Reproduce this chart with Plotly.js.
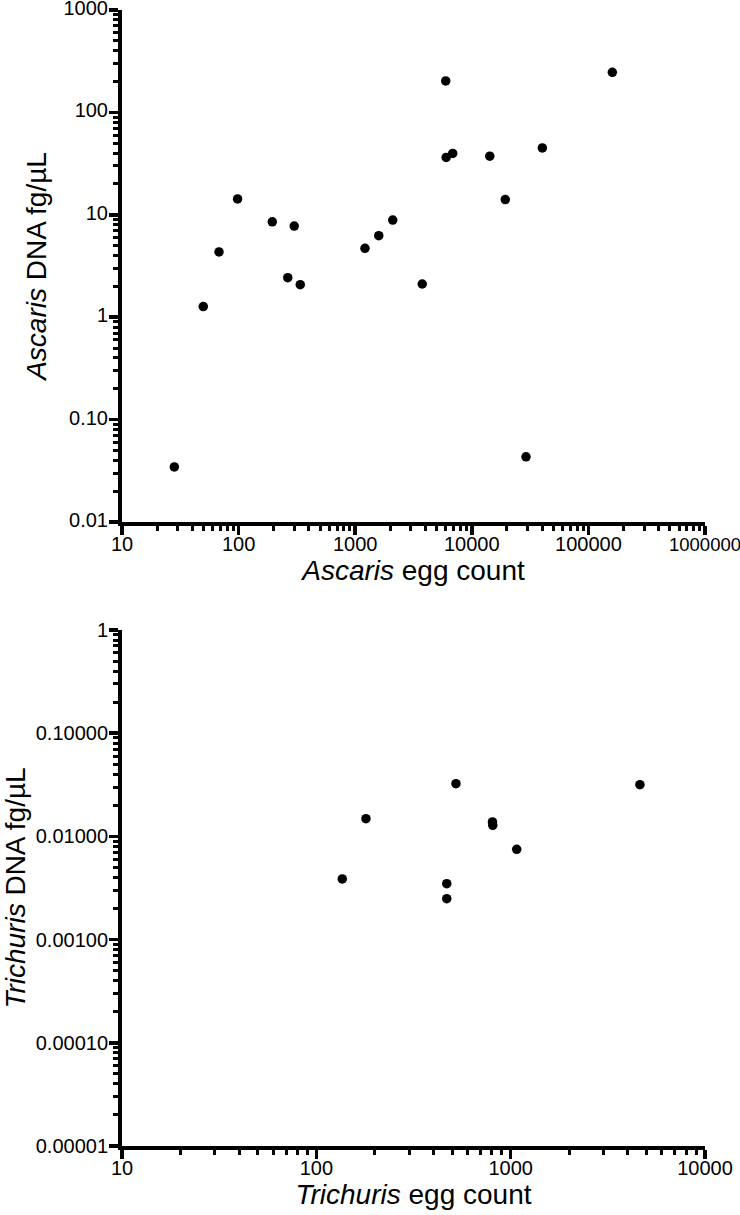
<!DOCTYPE html>
<html>
<head>
<meta charset="utf-8">
<script src="https://cdn.plot.ly/plotly-3.0.1.min.js"></script>
<style>body{margin:0;padding:0;background:#fff}#chart{width:740px;height:1215px}</style>
</head>
<body>
<div id="chart"></div>
<script>
// Ascaris panel
const ascarisEggs = [28.1, 49.8, 67.9, 98, 194.5, 264, 300, 338, 1213, 1592, 2099, 3758, 5975, 6030, 6855, 14260, 19370, 29170, 40270, 160400];
const ascarisDNA  = [0.0345, 1.27, 4.34, 14.3, 8.55, 2.43, 7.77, 2.08, 4.71, 6.25, 8.88, 2.11, 203, 36.3, 39.7, 37.4, 14.1, 0.0433, 45, 246];
// Trichuris panel
const trichurisEggs = [136, 180, 469, 469, 523, 806, 809, 1074, 4625];
const trichurisDNA  = [0.00387, 0.01485, 0.00348, 0.00249, 0.0324, 0.0138, 0.0128, 0.0075, 0.0317];

const ascXTickVals = [10, 100, 1000, 10000, 100000, 1000000];
const ascXTickText = ["10", "100", "1000", "10000", "100000", "<span style='font-size:18.5px'>1000000</span>"];
const ascYTickVals = [0.01, 0.1, 1, 10, 100, 1000];
const ascYTickText = ["0.01", "0.10", "1", "10", "100", "1000"];
const triXTickVals = [10, 100, 1000, 10000];
const triXTickText = ["10", "100", "1000", "10000"];
const triYTickVals = [0.00001, 0.0001, 0.001, 0.01, 0.1, 1];
const triYTickText = ["0.00001", "0.00010", "0.00100", "0.01000", "0.10000", "1"];

const FONT = "Liberation Sans, Arial, Helvetica, sans-serif";

function axis(extra) {
  return Object.assign({
    type: 'log',
    showline: true, linecolor: '#000', linewidth: 4,
    ticks: 'outside', ticklen: 9, tickwidth: 3.5, tickcolor: '#000',
    tickmode: 'array',
    showgrid: false, zeroline: false,
    ticklabeloverflow: 'allow',
    tickfont: {family: FONT, size: 20, color: '#000'},
    minor: {ticks: 'outside', ticklen: 5, tickwidth: 3, tickcolor: '#000', dtick: 'D1', tickmode: 'linear', showgrid: false},
    mirror: false,
    fixedrange: true
  }, extra);
}

const marker = {color: '#000', size: 9.5, symbol: 'circle'};
const titleFont = {family: FONT, size: 28, color: '#000'};

const data = [
  {x: ascarisEggs, y: ascarisDNA, type: 'scatter', mode: 'markers', marker: marker, xaxis: 'x', yaxis: 'y', cliponaxis: false},
  {x: trichurisEggs, y: trichurisDNA, type: 'scatter', mode: 'markers', marker: marker, xaxis: 'x2', yaxis: 'y2', cliponaxis: false}
];

const layout = {
  width: 740, height: 1215,
  margin: {l: 0, r: 0, t: 0, b: 0},
  paper_bgcolor: '#fff', plot_bgcolor: '#fff',
  showlegend: false,
  font: {family: FONT, color: '#000'},
  xaxis: axis({
    domain: [122/740, 705/740], anchor: 'y',
    range: [1, 6],
    ticklabelstandoff: -8,
    tickvals: ascXTickVals, ticktext: ascXTickText,
    title: {text: '<i>Ascaris</i> egg count', font: titleFont, standoff: 4}
  }),
  yaxis: axis({
    domain: [(1215-522)/1215, (1215-10)/1215], anchor: 'x',
    range: [-2, 3],
    ticklabelstandoff: -3,
    ticklabelshift: -2,
    tickvals: ascYTickVals, ticktext: ascYTickText,
    title: {text: '<i>Ascaris</i> DNA fg/µL', font: titleFont, standoff: 10}
  }),
  xaxis2: axis({
    domain: [122/740, 705/740], anchor: 'y2',
    range: [1, 4],
    ticklabelstandoff: -8,
    tickvals: triXTickVals, ticktext: triXTickText,
    title: {text: '<i>Trichuris</i> egg count', font: titleFont, standoff: 4}
  }),
  yaxis2: axis({
    domain: [(1215-1146)/1215, (1215-630)/1215], anchor: 'x2',
    range: [-5, 0],
    ticklabelstandoff: -3,
    tickvals: triYTickVals, ticktext: triYTickText,
    title: {text: '<i>Trichuris</i> DNA fg/µL', font: titleFont, standoff: 3}
  })
};

Plotly.newPlot('chart', data, layout, {displayModeBar: false, staticPlot: true});
</script>
</body>
</html>
